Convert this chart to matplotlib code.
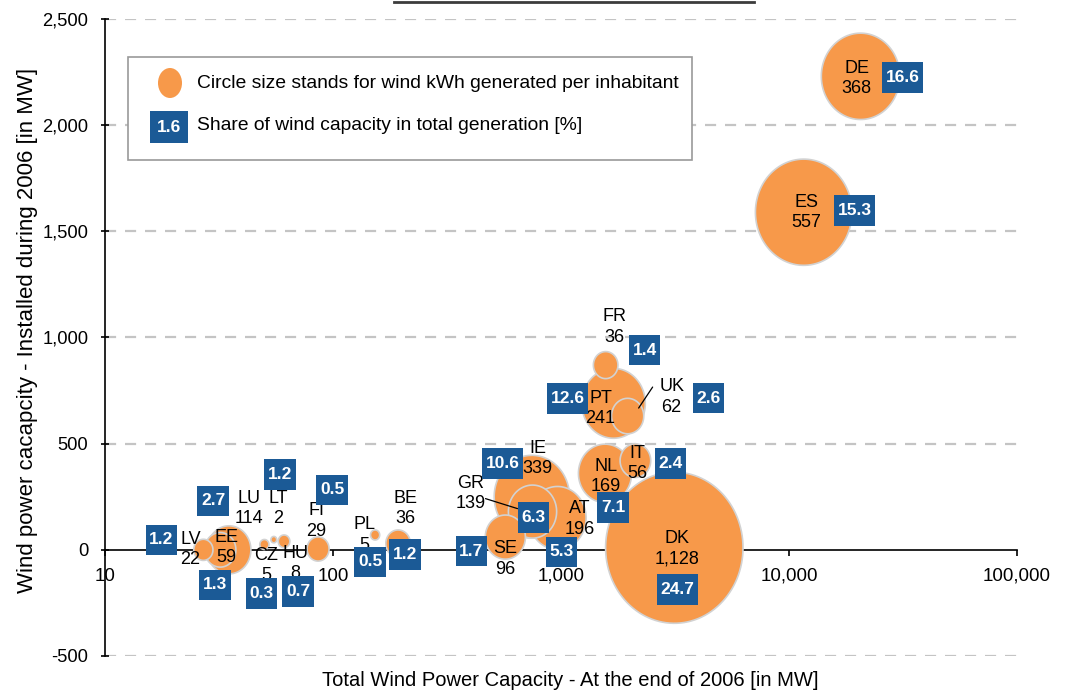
import numpy as np
import matplotlib
matplotlib.use("Agg")
import matplotlib.pyplot as plt
from matplotlib.path import Path
from matplotlib.patches import Rectangle, Ellipse
from matplotlib.lines import Line2D
from matplotlib.transforms import offset_copy

plt.rcParams["font.family"] = ["Liberation Sans", "DejaVu Sans"]

# ---- data ----
countries = ["DE", "ES", "DK", "FR", "PT", "UK", "IT", "NL", "IE", "GR", "AT",
             "SE", "BE", "PL", "FI", "HU", "CZ", "LT", "LU", "EE", "LV"]
total_mw = [20600, 11600, 3140, 1570, 1700, 1960, 2120, 1560, 745, 750, 965,
            570, 193, 153, 86, 61, 50, 55, 35, 32, 27]
installed_mw = [2230, 1590, 10, 870, 690, 630, 420, 360, 250, 180, 150,
                60, 30, 70, 4, 40, 25, 48, 0, 0, 0]
kwh_per_inh = [368, 557, 1128, 36, 241, 62, 56, 169, 339, 139, 196,
               96, 36, 5, 29, 8, 5, 2, 114, 59, 22]
share_pct = ["16.6", "15.3", "24.7", "1.4", "12.6", "2.6", "2.4", "7.1", "10.6", "6.3", "5.3",
             "1.7", "1.2", "0.5", "0.5", "0.7", "0.3", "1.2", "2.7", "1.3", "1.2"]
kwh_labels = ["368", "557", "1,128", "36", "241", "62", "56", "169", "339", "139", "196",
              "96", "36", "5", "29", "8", "5", "2", "114", "59", "22"]

# label placement (pixel offsets from bubble centre, +y is up)
name_off = {"DE": (-4, -2), "ES": (3, 0), "DK": (3, -1), "FR": (9, 38), "PT": (-13, -5),
            "UK": (44, 19), "IT": (2, -3), "NL": (1, -3), "IE": (6, 38), "GR": (-62, 18),
            "AT": (22, -1), "SE": (0, -22), "BE": (7, 35), "PL": (-11, 0), "FI": (-2, 28),
            "HU": (11, -22), "CZ": (2, -21), "LT": (4, 31), "LU": (20, 41), "EE": (6, 2),
            "LV": (-13, 0)}
box_off = {"DE": (42, -1), "ES": (51, 2), "DK": (3, -42), "FR": (39, 15), "PT": (-46, 5),
           "UK": (81, 18), "IT": (35, -3), "NL": (8, -34), "IE": (-29, 33), "GR": (1, -6),
           "AT": (4, -34), "SE": (-34, -14), "BE": (7, -11), "PL": (-5, -27), "FI": (14, 59),
           "HU": (14, -50), "CZ": (-3, -49), "LT": (6, 65), "LU": (-16, 49), "EE": (-5, -35),
           "LV": (-42, 10)}

ORANGE = "#F7994A"
BLUE = "#1B5A96"
W, H = 1068, 693


def rect_box(padx, pady):
    # square box with separate horizontal / vertical padding (fractions of font size)
    def style(x0, y0, width, height, mutation_size):
        px, py = padx * mutation_size, pady * mutation_size
        x0, y0 = x0 - px, y0 - py
        x1, y1 = x0 + width + 2 * px, y0 + height + 2 * py
        return Path([(x0, y0), (x1, y0), (x1, y1), (x0, y1), (x0, y0)], closed=True)
    return style


fig = plt.figure(figsize=(W / 100, H / 100), dpi=100)
ax = fig.add_axes([105 / W, 1 - 656 / H, (1017 - 105) / W, (656 - 19) / H])

ax.set_xscale("log")
ax.set_xlim(10, 100000)
ax.set_ylim(-500, 2500)

# slightly tall ellipse marker, like the reference
t = np.linspace(0, 2 * np.pi, 120)
oval = Path(np.column_stack([np.cos(t) / 1.1, np.sin(t)]), closed=True)

order = np.argsort(kwh_per_inh)[::-1]
ax.scatter(np.array(total_mw)[order], np.array(installed_mw)[order],
           s=10.5 * np.array(kwh_per_inh)[order], marker=oval,
           c=ORANGE, edgecolors="#d2d2d2", linewidths=1.2, zorder=3)

for i, c in enumerate(countries):
    x, y = total_mw[i], installed_mw[i]
    dx, dy = name_off[c]
    ax.annotate(f"{c}\n{kwh_labels[i]}", (x, y), xytext=(dx, dy), textcoords="offset pixels",
                ha="center", va="center", fontsize=13, linespacing=1.25, zorder=4)
    bx, by = box_off[c]
    ax.annotate(share_pct[i], (x, y), xytext=(bx, by), textcoords="offset pixels",
                ha="center", va="center", fontsize=12.5, color="white", fontweight="bold",
                bbox=dict(boxstyle=rect_box(0.21, 0.45), fc=BLUE, ec="none"), zorder=5)

# leader lines for UK and GR
for c, p0, p1 in [("UK", (25, 29), (11, 8)), ("GR", (-47, 13), (-15, 3))]:
    i = countries.index(c)
    ax.annotate("", xy=(total_mw[i], installed_mw[i]),
                xycoords=offset_copy(ax.transData, fig, x=p1[0], y=p1[1], units="dots"),
                xytext=(total_mw[i], installed_mw[i]),
                textcoords=offset_copy(ax.transData, fig, x=p0[0], y=p0[1], units="dots"),
                arrowprops=dict(arrowstyle="-", color="black", lw=0.9, shrinkA=0, shrinkB=0),
                zorder=4)

# axes styling
xt = [10, 100, 1000, 10000, 100000]
ax.set_xticks(xt)
ax.set_xticklabels([f"{v:,}" for v in xt])
ax.xaxis.set_minor_locator(matplotlib.ticker.NullLocator())
yt = list(range(-500, 2501, 500))
ax.set_yticks(yt)
ax.set_yticklabels([f"{v:,}" for v in yt])

for s in ["top", "right"]:
    ax.spines[s].set_visible(False)
ax.spines["bottom"].set_position(("data", 0))
ax.spines["bottom"].set_linewidth(1.2)
ax.spines["left"].set_linewidth(1.2)
ax.tick_params(axis="x", direction="out", length=4, width=1.2, pad=9, labelsize=13.5)
ax.tick_params(axis="y", direction="inout", length=6, width=1.2, pad=9, labelsize=13.2)

for v in yt:
    if v != 0:
        ax.axhline(v, color="#c4c4c4", lw=1.6, ls=(0, (5, 4)), zorder=1)

fig.text(28 / W, 1 - 330 / H, "Wind power cacapcity - Installed during 2006 [in MW]",
         rotation=90, ha="center", va="center", fontsize=16)
fig.text(570 / W, 1 - 680 / H, "Total Wind Power Capacity - At the end of 2006 [in MW]",
         ha="center", va="center", fontsize=14.5)

# legend box drawn by hand
fig.add_artist(Rectangle((128 / W, 1 - 160 / H), (692 - 128) / W, (160 - 57) / H,
                         transform=fig.transFigure, fc="white", ec="#9a9a9a", lw=1.2, zorder=6))
fig.add_artist(Ellipse((170 / W, 1 - 83 / H), 24 / W, 30 / H, transform=fig.transFigure,
                       fc=ORANGE, ec="none", zorder=7))
fig.text(169 / W, 1 - 127 / H, "1.6", ha="center", va="center", fontsize=12.5, color="white",
         fontweight="bold", bbox=dict(boxstyle=rect_box(0.4, 0.5), fc=BLUE, ec="none"), zorder=7)
fig.text(197 / W, 1 - 83 / H, "Circle size stands for wind kWh generated per inhabitant",
         ha="left", va="center", fontsize=13.9, zorder=7)
fig.text(197 / W, 1 - 126 / H, "Share of wind capacity in total generation [%]",
         ha="left", va="center", fontsize=13.9, zorder=7)

# fragment of the underline above the chart
fig.add_artist(Line2D([394 / W, 754 / W], [1 - 1.5 / H] * 2, color="#3c3c3c", lw=2))

plt.savefig("out.png", dpi=100)
